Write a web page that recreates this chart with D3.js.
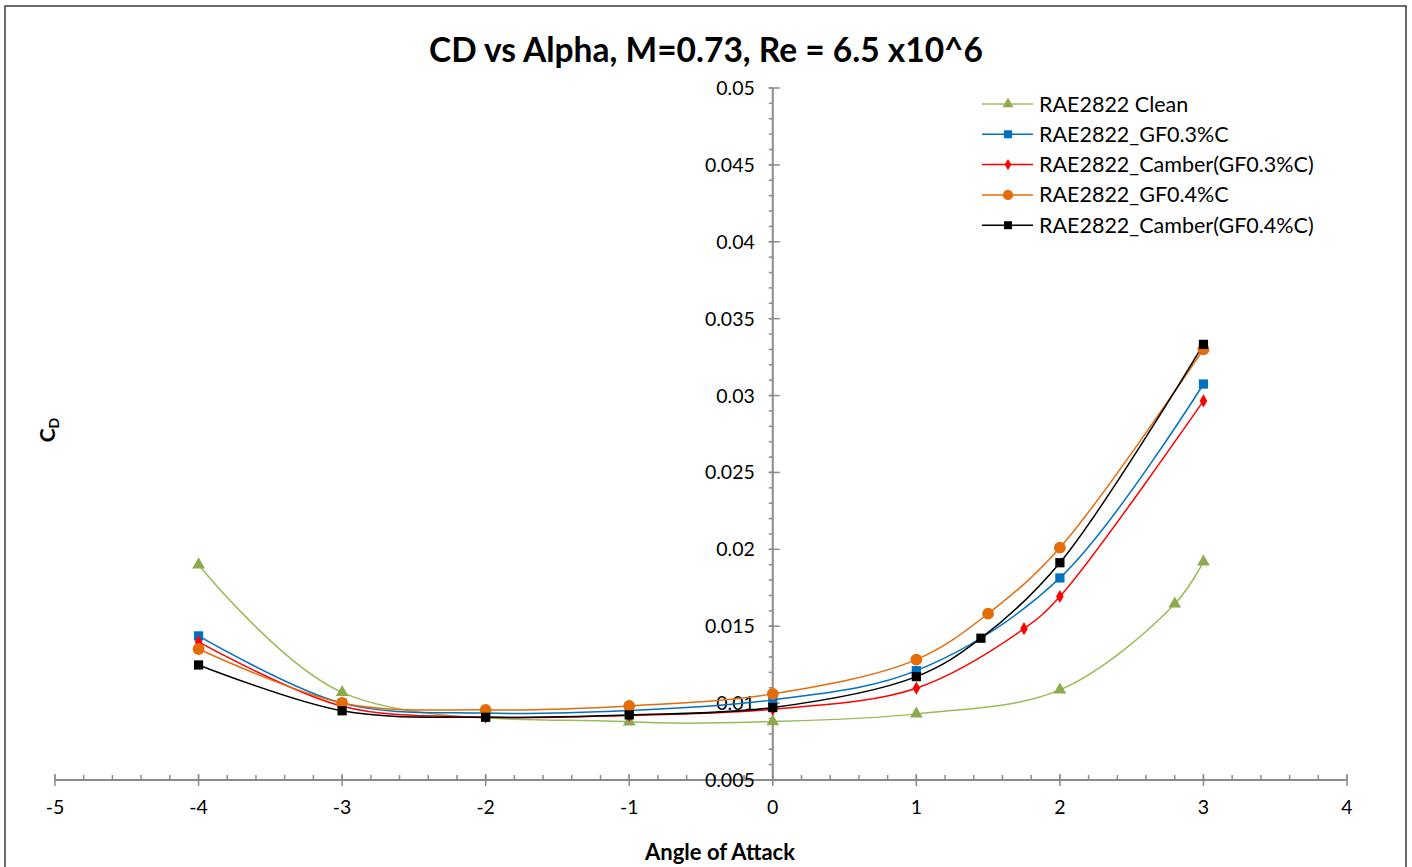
<!DOCTYPE html>
<html><head><meta charset="utf-8">
<script src="https://cdn.jsdelivr.net/npm/d3@7"></script>
<style>body{margin:0;background:#fff;}svg{display:block;}</style>
</head><body>
<script>
const xTicks = [-5,-4,-3,-2,-1,0,1,2,3,4];
const yTicks = [0.005,0.01,0.015,0.02,0.025,0.03,0.035,0.04,0.045,0.05];
const yTickLabels = ["0.005","0.01","0.015","0.02","0.025","0.03","0.035","0.04","0.045","0.05"];
const seriesNames = ["RAE2822 Clean","RAE2822_GF0.3%C","RAE2822_Camber(GF0.3%C)","RAE2822_GF0.4%C","RAE2822_Camber(GF0.4%C)"];
const cleanAlpha = [-4,-3,-1,0,1,2,2.8,3];
const cleanCD    = [0.0190,0.0107,0.00878,0.0088,0.0093,0.01086,0.01645,0.01918];
const gf03Alpha  = [-4,-3,-2,-1,0,1,2,3];
const gf03CD     = [0.01437,0.0100,0.00935,0.00952,0.01021,0.01211,0.01814,0.03075];
const cam03Alpha = [-4,-3,-2,-1,0,1,1.75,2,3];
const cam03CD    = [0.01398,0.0098,0.00909,0.0092,0.0096,0.01097,0.01484,0.01693,0.02965];
const gf04Alpha  = [-4,-3,-2,-1,0,1,1.5,2,3];
const gf04CD     = [0.01352,0.01001,0.00956,0.00982,0.0106,0.01283,0.01582,0.02011,0.03301];
const cam04Alpha = [-4,-3,-2,-1,0,1,1.45,2,3];
const cam04CD    = [0.01248,0.0095,0.00908,0.00923,0.00971,0.01172,0.01422,0.01913,0.03333];

const W = 1412, H = 867;
const svg = d3.select("body").append("svg").attr("width", W).attr("height", H);
const font = "Lato, 'Open Sans', sans-serif";

svg.append("rect").attr("x",5).attr("y",6).attr("width",1401).attr("height",H+10)
  .attr("fill","none").attr("stroke","#3a3a3a").attr("stroke-width",1.5);

const x = d3.scaleLinear().domain([-5,4]).range([55,1347]);
const y = d3.scaleLinear().domain([0.005,0.05]).range([780,88]);
const axisColor = "#8c8c8c";

// x axis at y = 0.005
const gx = svg.append("g").attr("transform",`translate(0,${y(0.005)})`);
gx.append("line").attr("x1",x(-5)).attr("x2",x(4)).attr("stroke",axisColor).attr("stroke-width",2);
const xMinor = d3.range(-5,4.0001,0.2);
gx.selectAll(".xm").data(xMinor).join("line").attr("x1",d=>x(d)).attr("x2",d=>x(d))
  .attr("y1",-5).attr("y2",0).attr("stroke",axisColor).attr("stroke-width",1.5);
gx.selectAll(".xM").data(xTicks).join("line").attr("x1",d=>x(d)).attr("x2",d=>x(d))
  .attr("y1",-6).attr("y2",6).attr("stroke",axisColor).attr("stroke-width",1.5);
gx.selectAll(".xl").data(xTicks).join("text").attr("x",d=>x(d)).attr("y",34)
  .attr("text-anchor","middle").attr("font-family",font).attr("font-size",19.5).attr("fill","#000")
  .text(d=>d);

// y axis at x = 0
const gy = svg.append("g").attr("transform",`translate(${x(0)},0)`);
gy.append("line").attr("y1",y(0.005)).attr("y2",y(0.05)).attr("stroke",axisColor).attr("stroke-width",2);
const yMinor = d3.range(0.005,0.05001,0.001);
gy.selectAll(".ym").data(yMinor).join("line").attr("y1",d=>y(d)).attr("y2",d=>y(d))
  .attr("x1",-4).attr("x2",0).attr("stroke",axisColor).attr("stroke-width",1.5);
gy.selectAll(".yM").data(yTicks).join("line").attr("y1",d=>y(d)).attr("y2",d=>y(d))
  .attr("x1",-4).attr("x2",7).attr("stroke",axisColor).attr("stroke-width",1.5);
gy.selectAll(".yl").data(yTicks).join("text").attr("x",-18).attr("y",d=>y(d)+7)
  .attr("text-anchor","end").attr("font-family",font).attr("font-size",19.5).attr("fill","#000")
  .text((d,i)=>yTickLabels[i]);

// title & labels
svg.append("text").attr("x",706).attr("y",62).attr("text-anchor","middle")
  .attr("font-family",font).attr("font-weight","bold").attr("font-size",33.5)
  .text("CD vs Alpha, M=0.73, Re = 6.5 x10^6");
svg.append("text").attr("x",720).attr("y",860).attr("text-anchor","middle")
  .attr("font-family",font).attr("font-weight","bold").attr("font-size",22)
  .text("Angle of Attack");
const yl = svg.append("text").attr("transform","translate(55,430) rotate(-90)")
  .attr("text-anchor","middle").attr("font-family",font).attr("font-weight","bold").attr("font-size",21);
yl.append("tspan").text("C");
yl.append("tspan").attr("font-size",14).attr("dy",4).text("D");

// series
const series = [
  {name:seriesNames[0], a:cleanAlpha, v:cleanCD, color:"#9BBB59", mcolor:"#8FA94F", shape:d3.symbolTriangle, size:70},
  {name:seriesNames[1], a:gf03Alpha, v:gf03CD, color:"#0070C0", mcolor:"#0070C0", shape:d3.symbolSquare, size:85},
  {name:seriesNames[2], a:cam03Alpha, v:cam03CD, color:"#FF0000", mcolor:"#FF0000", shape:d3.symbolDiamond, size:50},
  {name:seriesNames[3], a:gf04Alpha, v:gf04CD, color:"#E46C0A", mcolor:"#E46C0A", shape:d3.symbolCircle, size:110},
  {name:seriesNames[4], a:cam04Alpha, v:cam04CD, color:"#000000", mcolor:"#000000", shape:d3.symbolSquare, size:85}
];
const line = d3.line().x(d=>x(d[0])).y(d=>y(d[1])).curve(d3.curveCatmullRom.alpha(0.5));
const plot = svg.append("g");
series.forEach(s=>{
  const pts = s.a.map((a,i)=>[a,s.v[i]]);
  plot.append("path").attr("d",line(pts)).attr("fill","none").attr("stroke",s.color).attr("stroke-width",1.5);
});
series.forEach(s=>{
  const pts = s.a.map((a,i)=>[a,s.v[i]]);
  plot.selectAll(null).data(pts).join("path")
    .attr("transform",d=>`translate(${x(d[0])},${y(d[1])})`)
    .attr("d",d3.symbol().type(s.shape).size(s.size)).attr("fill",s.mcolor);
});

// legend
const lg = svg.append("g");
series.forEach((s,i)=>{
  const yy = 104 + i*30.3;
  lg.append("line").attr("x1",982).attr("x2",1033).attr("y1",yy).attr("y2",yy).attr("stroke",s.color).attr("stroke-width",1.5);
  lg.append("path").attr("transform",`translate(1008,${yy})`).attr("d",d3.symbol().type(s.shape).size(s.size*0.75)).attr("fill",s.mcolor);
  lg.append("text").attr("x",1039).attr("y",yy+7.5).attr("font-family",font).attr("font-size",21.5).text(s.name);
});
</script>
</body></html>
